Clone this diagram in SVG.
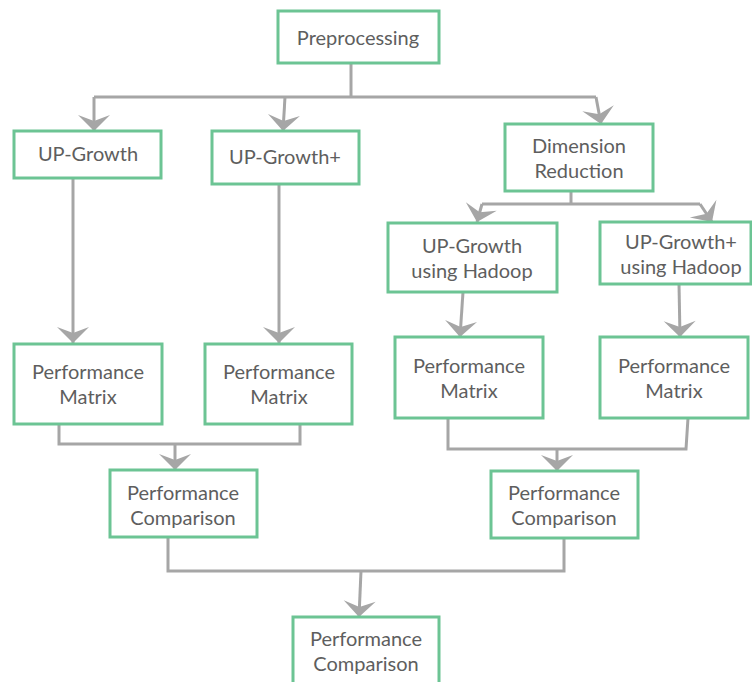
<svg xmlns="http://www.w3.org/2000/svg" width="752" height="682" viewBox="0 0 752 682">
<style>
.box{fill:#fff;stroke:#6cc494;stroke-width:3}
.t{font-family:Lato,"Open Sans","Noto Sans",sans-serif;font-size:20px;fill:#5e5e5e;text-anchor:middle}
.c{fill:none;stroke:#a6a6a6;stroke-width:3;stroke-linejoin:miter}
</style>
<defs>
<marker id="ah" markerUnits="userSpaceOnUse" markerWidth="36" markerHeight="36" viewBox="-2 -18 22 36" refX="16" refY="0" orient="auto">
<path d="M0,-16 L16,0 L0,16 L6,0 Z" fill="#a6a6a6"/>
</marker>
</defs>
<rect width="752" height="682" fill="#fff"/>
<g id="connectors">
<polyline class="c" points="351,63 351,97"/>
<polyline class="c" points="94,97 596,97"/>
<polyline class="c" points="94,97 94,131" marker-end="url(#ah)"/>
<polyline class="c" points="285,97 283,131" marker-end="url(#ah)"/>
<polyline class="c" points="596,97 601,124" marker-end="url(#ah)"/>
<polyline class="c" points="571,191 571,204"/>
<polyline class="c" points="482,204 700,204"/>
<polyline class="c" points="482,204 477,222" marker-end="url(#ah)"/>
<polyline class="c" points="700,204 712,222" marker-end="url(#ah)"/>
<polyline class="c" points="73,178 73,343" marker-end="url(#ah)"/>
<polyline class="c" points="279,184 279,343" marker-end="url(#ah)"/>
<polyline class="c" points="463,292 460,337" marker-end="url(#ah)"/>
<polyline class="c" points="679,284 680,337" marker-end="url(#ah)"/>
<polyline class="c" points="59,424 59,444 300,444 300,424"/>
<polyline class="c" points="175,444 175,470" marker-end="url(#ah)"/>
<polyline class="c" points="448,418 448,449 686,449 688,418"/>
<polyline class="c" points="557,449 557,471" marker-end="url(#ah)"/>
<polyline class="c" points="168,537 168,571 564,571 564,537"/>
<polyline class="c" points="361,571 359,617" marker-end="url(#ah)"/>
</g>
<g id="preprocessing"><rect class="box" x="278" y="11" width="161" height="52"/><text class="t" x="358" y="45">Preprocessing</text></g>
<g id="upgrowth"><rect class="box" x="14" y="131" width="147" height="47"/><text class="t" x="88" y="161">UP-Growth</text></g>
<g id="upgrowthplus"><rect class="box" x="212" y="131" width="147" height="53"/><text class="t" x="285" y="164">UP-Growth+</text></g>
<g id="dimred"><rect class="box" x="505" y="124" width="148" height="67"/><text class="t" x="579" y="153">Dimension</text><text class="t" x="579" y="178">Reduction</text></g>
<g id="upgh"><rect class="box" x="388" y="223" width="169" height="69"/><text class="t" x="472" y="253">UP-Growth</text><text class="t" x="472" y="278">using Hadoop</text></g>
<g id="upgph"><rect class="box" x="600" y="222" width="151" height="62"/><text class="t" x="681" y="249">UP-Growth+</text><text class="t" x="681" y="274">using Hadoop</text></g>
<g id="pm1"><rect class="box" x="14" y="344" width="148" height="80"/><text class="t" x="88" y="379">Performance</text><text class="t" x="88" y="404">Matrix</text></g>
<g id="pm2"><rect class="box" x="205" y="344" width="147" height="80"/><text class="t" x="279" y="379">Performance</text><text class="t" x="279" y="404">Matrix</text></g>
<g id="pm3"><rect class="box" x="395" y="337" width="148" height="81"/><text class="t" x="469" y="373">Performance</text><text class="t" x="469" y="398">Matrix</text></g>
<g id="pm4"><rect class="box" x="600" y="337" width="148" height="81"/><text class="t" x="674" y="373">Performance</text><text class="t" x="674" y="398">Matrix</text></g>
<g id="pc1"><rect class="box" x="110" y="470" width="147" height="67"/><text class="t" x="183" y="500">Performance</text><text class="t" x="183" y="525">Comparison</text></g>
<g id="pc2"><rect class="box" x="491" y="471" width="147" height="67"/><text class="t" x="564" y="500">Performance</text><text class="t" x="564" y="525">Comparison</text></g>
<g id="pc3"><rect class="box" x="293" y="617" width="146" height="70"/><text class="t" x="366" y="646">Performance</text><text class="t" x="366" y="671">Comparison</text></g>
</svg>
